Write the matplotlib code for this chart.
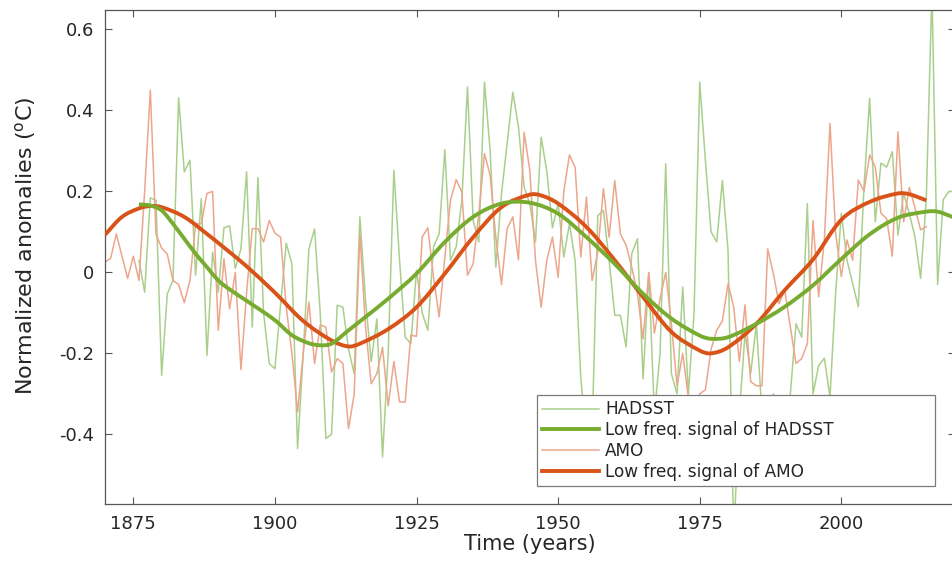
import matplotlib
matplotlib.use("Agg")
import matplotlib.pyplot as plt
from matplotlib.path import Path
from matplotlib.patches import PathPatch
from matplotlib.lines import Line2D
import numpy as np

# ---------------- data ----------------
amo_start = 1870
amo_values = [
    0.025, 0.035, 0.095, 0.04, -0.015, 0.04, -0.02, 0.2, 0.45, 0.095,      # 1870-1879
    0.06, 0.045, -0.02, -0.03, -0.075, -0.02, 0.12, 0.12, 0.195, 0.2,      # 1880-1889
    -0.143, 0.034, -0.09, 0.0, -0.24, -0.05, 0.108, 0.108, 0.075, 0.128,   # 1890-1899
    0.097, 0.087, -0.086, -0.2, -0.345, -0.2, -0.073, -0.225, -0.13, -0.135,  # 1900-1909
    -0.246, -0.213, -0.225, -0.386, -0.3, 0.095, -0.135, -0.275, -0.25, -0.185,  # 1910-1919
    -0.33, -0.22, -0.32, -0.32, -0.155, -0.158, 0.087, 0.11, -0.012, -0.11,  # 1920-1929
    0.038, 0.178, 0.229, 0.198, -0.007, 0.021, 0.145, 0.293, 0.24, 0.087,  # 1930-1939
    -0.03, 0.108, 0.137, 0.031, 0.346, 0.252, 0.03, -0.086, 0.03, 0.087,   # 1940-1949
    -0.012, 0.2, 0.29, 0.26, 0.038, 0.186, -0.02, 0.05, 0.207, 0.087,      # 1950-1959
    0.227, 0.095, 0.067, 0.013, -0.053, -0.164, 0.0, -0.15, -0.065, 0.0,   # 1960-1969
    -0.127, -0.28, -0.2, -0.31, -0.35, -0.3, -0.29, -0.19, -0.143, -0.12,  # 1970-1979
    -0.028, -0.086, -0.22, -0.08, -0.27, -0.28, -0.28, 0.058, -0.003, -0.077,  # 1980-1989
    -0.044, -0.135, -0.225, -0.213, -0.176, 0.128, -0.06, 0.08, 0.368, 0.096,  # 1990-1999
    -0.01, 0.08, 0.03, 0.228, 0.2, 0.29, 0.26, 0.146, 0.133, 0.04,         # 2000-2009
    0.347, 0.125, 0.21, 0.16, 0.105, 0.113,                                # 2010-2015
]

hadsst_start = 1876
hadsst_values = [
    0.03, -0.049, 0.184, 0.178,                                            # 1876-1879
    -0.254, -0.053, -0.02, 0.431, 0.248, 0.277, -0.007, 0.182, -0.205, 0.05,  # 1880-1889
    -0.049, 0.11, 0.115, 0.01, 0.058, 0.248, -0.135, 0.234, -0.1, -0.225,  # 1890-1899
    -0.238, -0.08, 0.072, 0.021, -0.435, -0.2, 0.058, 0.107, -0.1, -0.41,  # 1900-1909
    -0.4, -0.081, -0.086, -0.19, -0.25, 0.137, -0.07, -0.22, -0.115, -0.456,  # 1910-1919
    -0.2, 0.252, 0.03, -0.16, -0.176, 0.005, -0.1, -0.143, 0.063, 0.095,   # 1920-1929
    0.303, 0.03, 0.063, 0.178, 0.458, 0.128, 0.075, 0.47, 0.3, 0.013,      # 1930-1939
    0.194, 0.318, 0.445, 0.359, 0.21, 0.17, 0.075, 0.334, 0.25, 0.11,      # 1940-1949
    0.17, 0.038, 0.12, 0.03, -0.259, -0.42, -0.4, 0.14, 0.153, 0.03,       # 1950-1959
    -0.106, -0.106, -0.184, 0.046, 0.083, -0.263, -0.003, -0.35, -0.2, 0.268,  # 1960-1969
    -0.25, -0.3, -0.036, -0.3, -0.1, 0.47, 0.277, 0.1, 0.075, 0.227,       # 1970-1979
    0.054, -0.65, -0.35, -0.15, -0.25, -0.127, -0.35, -0.4, -0.3, -0.35,   # 1980-1989
    -0.45, -0.3, -0.127, -0.16, 0.17, -0.3, -0.23, -0.212, -0.307, -0.05,  # 1990-1999
    0.146, 0.03, -0.027, -0.085, 0.21, 0.43, 0.125, 0.27, 0.26, 0.298,     # 2000-2009
    0.092, 0.195, 0.146, 0.088, -0.015, 0.18, 0.7, -0.03, 0.18, 0.2,       # 2010-2019
    0.2,                                                                   # 2020
]

hadsst_low_years = [1876, 1878, 1880, 1882, 1884, 1886, 1888, 1890, 1892, 1895,
                    1900, 1903, 1906, 1908, 1910, 1913, 1916, 1920, 1925, 1930,
                    1935, 1940, 1945, 1950, 1955, 1960, 1965, 1970, 1975, 1977,
                    1980, 1985, 1990, 1995, 2000, 2005, 2010, 2015, 2017, 2020]
hadsst_low_values = [0.168, 0.165, 0.153, 0.12, 0.083, 0.046, 0.013, -0.02, -0.042, -0.07,
                     -0.118, -0.155, -0.175, -0.18, -0.176, -0.143, -0.11, -0.065, -0.003, 0.075,
                     0.137, 0.17, 0.172, 0.145, 0.087, 0.021, -0.053, -0.114, -0.156, -0.164,
                     -0.16, -0.127, -0.085, -0.032, 0.033, 0.094, 0.135, 0.15, 0.15, 0.135]

amo_low_years = [1870, 1873, 1876, 1878, 1880, 1884, 1888, 1892, 1895, 1900,
                 1905, 1910, 1913, 1915, 1920, 1925, 1930, 1935, 1940, 1945,
                 1947, 1950, 1955, 1960, 1965, 1970, 1975, 1977, 1980, 1985,
                 1990, 1995, 2000, 2005, 2010, 2012, 2015]
amo_low_values = [0.093, 0.137, 0.158, 0.164, 0.161, 0.137, 0.095, 0.05, 0.015, -0.05,
                  -0.12, -0.168, -0.183, -0.176, -0.14, -0.086, -0.003, 0.087, 0.161, 0.192,
                  0.19, 0.17, 0.112, 0.03, -0.061, -0.147, -0.193, -0.2, -0.185, -0.127,
                  -0.044, 0.032, 0.13, 0.174, 0.195, 0.193, 0.178]

x_ticks = [1875, 1900, 1925, 1950, 1975, 2000]
y_ticks = [-0.4, -0.2, 0, 0.2, 0.4, 0.6]
y_tick_labels = ["-0.4", "-0.2", "0", "0.2", "0.4", "0.6"]
legend_labels = ["HADSST", "Low freq. signal of HADSST", "AMO", "Low freq. signal of AMO"]

amo_years = np.arange(amo_start, amo_start + len(amo_values))
hadsst_years = np.arange(hadsst_start, hadsst_start + len(hadsst_values))


def smooth_path(xs, ys):
    """Smooth (Hermite/Bezier) path through the read points, drawn by matplotlib."""
    xs = np.asarray(xs, float)
    ys = np.asarray(ys, float)
    n = len(xs)
    m = np.empty(n)
    m[0] = (ys[1] - ys[0]) / (xs[1] - xs[0])
    m[-1] = (ys[-1] - ys[-2]) / (xs[-1] - xs[-2])
    m[1:-1] = (ys[2:] - ys[:-2]) / (xs[2:] - xs[:-2])
    verts = [(xs[0], ys[0])]
    codes = [Path.MOVETO]
    for i in range(n - 1):
        dx = xs[i + 1] - xs[i]
        verts += [(xs[i] + dx / 3, ys[i] + m[i] * dx / 3),
                  (xs[i + 1] - dx / 3, ys[i + 1] - m[i + 1] * dx / 3),
                  (xs[i + 1], ys[i + 1])]
        codes += [Path.CURVE4] * 3
    return Path(verts, codes)


# ---------------- figure ----------------
plt.rcParams['font.family'] = ['DejaVu Sans']
fig = plt.figure(figsize=(9.52, 5.63), dpi=100)
W, H = 952, 563
left, right, top, bottom = 105, 954.6, 10, 504
ax = fig.add_axes([left / W, 1 - bottom / H, (right - left) / W, (bottom - top) / H])

c_g_raw = '#AACF8C'
c_g_low = '#77AC30'
c_o_raw = '#EDA68C'
c_o_low = '#D95319'
lw_low = 2.8

l1, = ax.plot(hadsst_years, hadsst_values, color=c_g_raw, lw=1.1, zorder=2)
l3, = ax.plot(amo_years, amo_values, color=c_o_raw, lw=1.1, zorder=2)

ax.add_patch(PathPatch(smooth_path(hadsst_low_years, hadsst_low_values), facecolor='none',
                       edgecolor=c_g_low, lw=lw_low, zorder=4, capstyle='butt'))
ax.add_patch(PathPatch(smooth_path(amo_low_years, amo_low_values), facecolor='none',
                       edgecolor=c_o_low, lw=lw_low, zorder=3, capstyle='butt'))
l2 = Line2D([], [], color=c_g_low, lw=lw_low)
l4 = Line2D([], [], color=c_o_low, lw=lw_low)

ax.set_xlim(1870, 2020)
ax.set_ylim(-0.572, 0.648)
ax.set_xticks(x_ticks)
ax.set_yticks(y_ticks)
ax.set_yticklabels(y_tick_labels)

axis_col = '#555555'
text_col = '#262626'
for s in ax.spines.values():
    s.set_color(axis_col)
    s.set_linewidth(0.9)
ax.tick_params(direction='in', top=True, right=True, length=5, width=0.8,
               colors=axis_col, labelcolor=text_col, labelsize=13, pad=8)

ax.set_xlabel('Time (years)', fontsize=15, color=text_col, labelpad=1)
ax.set_ylabel(r'Normalized anomalies ($^{\mathrm{o}}$C)', fontsize=16, color=text_col)
ax.yaxis.set_label_coords(-0.079, (bottom - 246) / (bottom - top))

x0 = (537 - left) / (right - left)
y0 = (bottom - 486) / (bottom - top)
wl = (935 - 537) / (right - left)
hl = (486 - 398) / (bottom - top)
leg = ax.legend([l1, l2, l3, l4], legend_labels, loc='lower left', mode='expand',
                bbox_to_anchor=(x0, y0, wl, hl),
                borderaxespad=0, fontsize=12.2, handlelength=3.35, handletextpad=0.35,
                labelspacing=0.16, borderpad=0.32, fancybox=False, framealpha=1,
                edgecolor='#7a7a7a')
leg.get_frame().set_linewidth(0.9)
for t in leg.get_texts():
    t.set_color(text_col)

fig.savefig('out.png', dpi=100)
